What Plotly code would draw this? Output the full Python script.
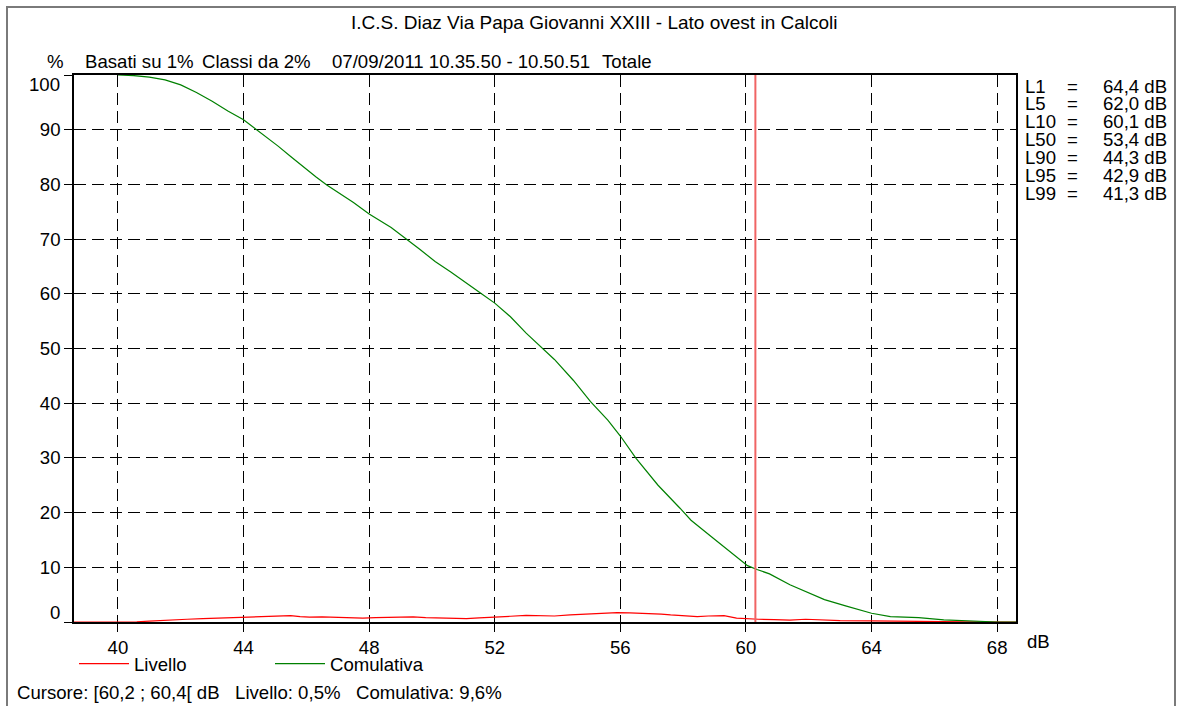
import plotly.graph_objects as go

# ---------------- data ----------------
title_text = "I.C.S. Diaz Via Papa Giovanni XXIII - Lato ovest in Calcoli"
header_items = ["Basati su 1%", "Classi da 2%", "07/09/2011 10.35.50 - 10.50.51", "Totale"]
footer_text = "Cursore: [60,2 ; 60,4[ dB   Livello: 0,5%   Comulativa: 9,6%"

cum_db = [40.0, 40.5, 41.0, 41.5, 42.0, 42.5, 43.0, 43.5, 44.0, 44.4, 45.1, 45.5, 45.9,
          46.3, 46.65, 47.0, 47.5, 48.0, 48.7, 49.6, 50.1, 50.6, 51.1, 51.6, 52.0, 52.5,
          53.0, 53.5, 53.9, 54.5, 55.05, 55.6, 56.0, 56.5, 57.2, 57.9, 58.25, 58.9, 59.3,
          59.7, 60.05, 60.35, 60.75, 61.4, 61.95, 62.5, 63.2, 64.0, 64.6, 65.5, 66.3,
          67.3, 68.0, 68.6]
cum_pct = [100.0, 99.9, 99.6, 99.1, 98.2, 96.8, 95.2, 93.4, 91.8, 90.1, 87.0, 85.1, 83.2,
           81.4, 79.9, 78.6, 76.7, 74.6, 72.1, 68.2, 65.9, 64.0, 61.9, 59.9, 58.3, 55.8,
           52.8, 50.1, 48.0, 44.2, 40.3, 36.9, 34.0, 29.9, 25.0, 20.8, 18.6, 15.6, 13.7,
           11.8, 10.3, 9.6, 8.8, 6.8, 5.4, 4.1, 2.9, 1.6, 1.0, 0.8, 0.4, 0.1, 0.0, 0.0]

lev_db = [38.6, 40.0, 40.6, 41.0, 41.4, 41.8, 42.2, 42.7, 43.2, 43.6, 44.0, 44.4, 44.7,
          45.1, 45.5, 45.8, 46.1, 46.5, 47.0, 47.4, 47.8, 48.2, 48.7, 49.0, 49.4, 49.8,
          50.2, 50.6, 51.1, 51.5, 52.0, 52.5, 53.0, 53.5, 53.9, 54.4, 54.9, 55.4, 55.9,
          56.3, 56.9, 57.3, 57.6, 58.0, 58.45, 58.8, 59.3, 59.7, 60.0, 60.4, 60.9, 61.4,
          61.9, 62.4, 63.0, 64.0, 65.1, 66.2, 67.0, 68.6]
lev_pct = [0.0, 0.0, 0.05, 0.15, 0.3, 0.4, 0.5, 0.6, 0.7, 0.75, 0.85, 0.95, 1.1,
           1.05, 1.15, 1.0, 0.9, 0.95, 0.85, 0.8, 0.7, 0.8, 0.85, 0.9, 0.95, 0.8,
           0.7, 0.65, 0.6, 0.75, 0.95, 1.05, 1.2, 1.15, 1.1, 1.3, 1.45, 1.5, 1.7,
           1.65, 1.6, 1.45, 1.3, 1.15, 1.0, 1.1, 1.15, 0.7, 0.6, 0.5, 0.45, 0.35,
           0.5, 0.35, 0.25, 0.2, 0.1, 0.05, 0.02, 0.0]

cursor_db = 60.3

stat_labels = ["L1", "L5", "L10", "L50", "L90", "L95", "L99"]
stat_values = ["64,4 dB", "62,0 dB", "60,1 dB", "53,4 dB", "44,3 dB", "42,9 dB", "41,3 dB"]

x_ticks = [40, 44, 48, 52, 56, 60, 64, 68]
y_ticks = [0, 10, 20, 30, 40, 50, 60, 70, 80, 90, 100]

# ---------------- layout helpers ----------------
W_FIG, H_FIG = 1177, 706
L, R, T, B = 74, 1016, 75, 622
PW, PH = R - L, B - T


def px(x):
    return (x - L) / PW


def py(y):
    return (B - y) / PH


FONT = "Liberation Sans, Arial, sans-serif"
FS = 18.6

fig = go.Figure()
fig.add_trace(go.Scatter(x=lev_db, y=lev_pct, mode="lines", name="Livello",
                         line=dict(color="#ff0000", width=1.2)))
fig.add_trace(go.Scatter(x=cum_db, y=cum_pct, mode="lines", name="Comulativa",
                         line=dict(color="#008000", width=1.2)))

# cursor
fig.add_shape(type="line", xref="x", yref="paper", x0=cursor_db, x1=cursor_db, y0=0, y1=1,
              line=dict(color="#f06464", width=2), layer="above")

# outer border
fig.add_shape(type="rect", xref="paper", yref="paper",
              x0=px(7), x1=px(1175), y0=py(712), y1=py(7),
              line=dict(color="#7a7a7a", width=2), layer="below")

ann = []
ann.append(dict(text=title_text, x=px(594), y=py(22), xanchor="center", yanchor="middle",
                size=19))
ann.append(dict(text="%", x=px(45), y=py(61), xanchor="left", yanchor="middle"))
for xx, t in zip([83, 200, 330, 600], header_items):
    ann.append(dict(text=t, x=px(xx), y=py(61), xanchor="left", yanchor="middle"))
ann.append(dict(text="dB", x=px(1025), y=py(641), xanchor="left", yanchor="middle"))
ann.append(dict(text="100", x=px(62), y=py(84), xanchor="right", yanchor="middle"))
ann.append(dict(text="0", x=px(62), y=py(612), xanchor="right", yanchor="middle"))
ann.append(dict(text=footer_text, x=px(15), y=py(692), xanchor="left", yanchor="middle"))
for i, (lab, val) in enumerate(zip(stat_labels, stat_values)):
    yy = 86 + i * 17.9
    ann.append(dict(text=lab, x=px(1023), y=py(yy), xanchor="left", yanchor="middle"))
    ann.append(dict(text="=", x=px(1072), y=py(yy), xanchor="center", yanchor="middle"))
    ann.append(dict(text=val, x=px(1169), y=py(yy), xanchor="right", yanchor="middle"))
for a in ann:
    sz = a.pop("size", FS)
    a.update(xref="paper", yref="paper", showarrow=False,
             font=dict(family=FONT, size=sz, color="#000000"))

fig.update_layout(
    width=W_FIG, height=H_FIG,
    margin=dict(l=L, r=W_FIG - R, t=T, b=H_FIG - B),
    paper_bgcolor="white", plot_bgcolor="white",
    font=dict(family=FONT, size=FS, color="#000000"),
    annotations=ann,
    showlegend=True,
    legend=dict(orientation="h", x=px(74), y=py(664), xanchor="left", yanchor="middle",
                entrywidth=131, entrywidthmode="pixels", itemwidth=50,
                font=dict(family=FONT, size=FS), bgcolor="rgba(0,0,0,0)"),
)
fig.update_xaxes(range=[38.6, 68.6], tickvals=x_ticks, ticks="outside", ticklen=8,
                 tickcolor="#000", showline=True, linecolor="#000", linewidth=1.5,
                 mirror=True, showgrid=True, gridcolor="#000", gridwidth=1,
                 griddash="12px,6px", zeroline=False, fixedrange=True)
fig.update_yaxes(range=[0, 100], tickvals=y_ticks,
                 ticktext=["" if v in (0, 100) else str(v) for v in y_ticks],
                 ticks="outside", ticklen=8, tickcolor="#000", showline=True,
                 linecolor="#000", linewidth=1.5, mirror=True, showgrid=True,
                 gridcolor="#000", gridwidth=1, griddash="12px,6px", zeroline=False,
                 fixedrange=True)

fig.write_html("out.html", config={"displayModeBar": False},
               post_script="document.body.style.margin='0px';document.body.style.overflow='hidden';")
